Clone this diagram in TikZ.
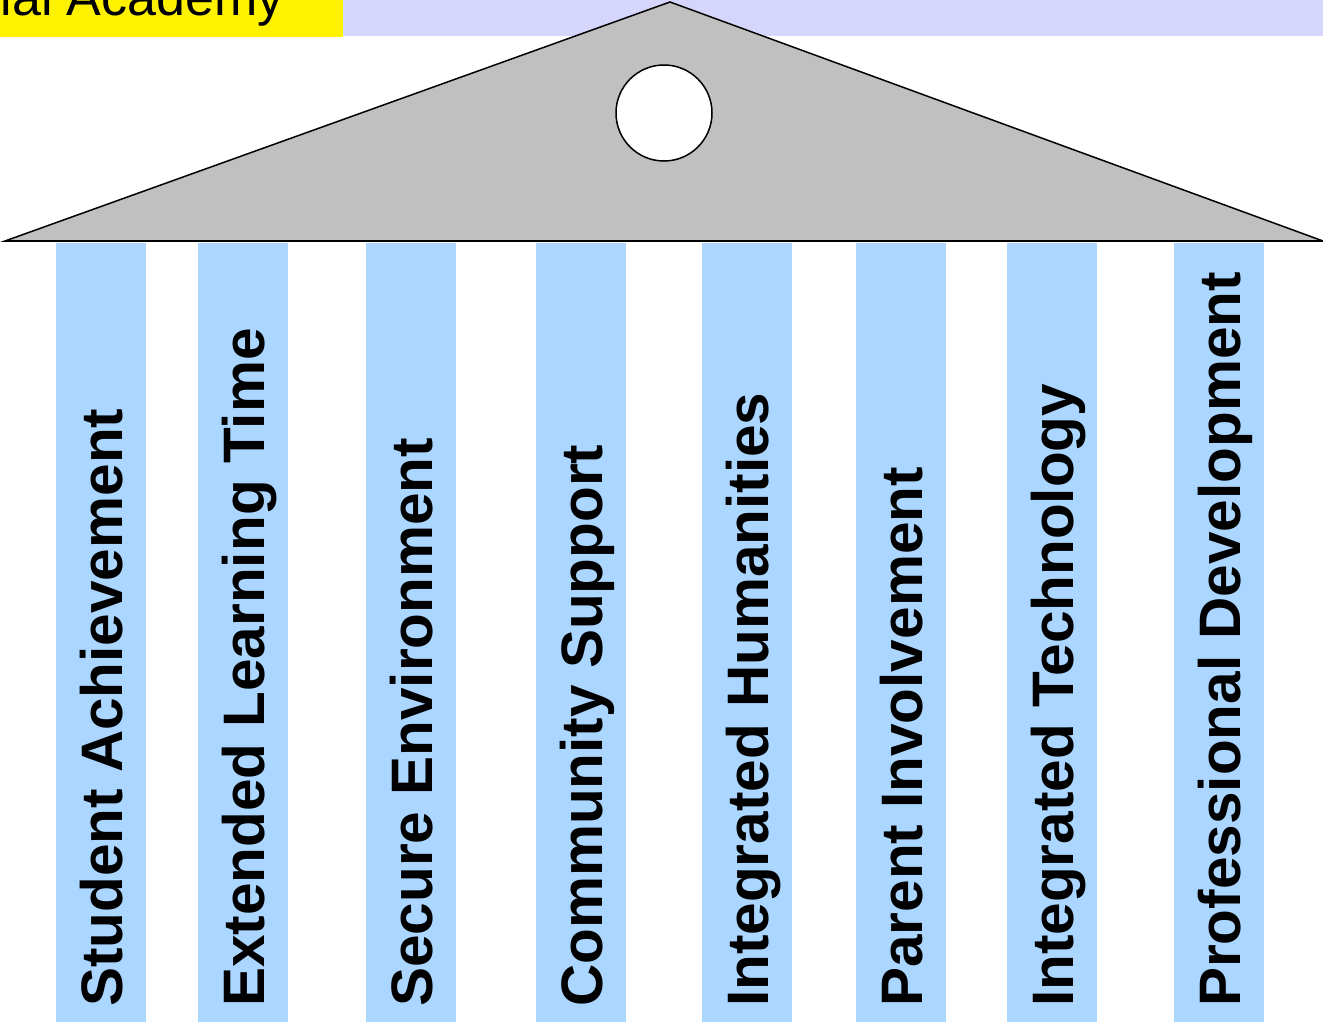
\documentclass[tikz,border=0pt]{standalone}
\usepackage{fontspec}
\setmainfont{Liberation Sans}
\definecolor{lavender}{RGB}{214,214,252}
\definecolor{pillar}{RGB}{170,214,255}
\definecolor{roofgray}{RGB}{192,192,192}
\tikzset{
  pillarbox/.style={fill=pillar, draw=none, inner sep=0pt, minimum width=90pt, minimum height=780pt, anchor=north west},
  pillartext/.style={rotate=90, anchor=base west, inner sep=0pt, font=\fontsize{58.5}{60}\selectfont\bfseries}
}
\begin{document}
\begin{tikzpicture}[x=1pt,y=-1pt]
\useasboundingbox (0,0) rectangle (1323,1022);
\clip (0,0) rectangle (1323,1022);
% banner
\fill[yellow] (0,0) rectangle (343,37);
\fill[lavender] (343,0) rectangle (1323,36);
\node[anchor=base east, inner sep=0pt, font=\fontsize{52}{54}\selectfont] (title) at (284,16) {ial Academy};
% roof
\draw[fill=roofgray, line width=1.5pt, line join=miter] (5,241) -- (670,2) -- (1323,241) -- cycle;
\draw[line width=2.5pt] (5,241) -- (1323,241);
\node[circle, draw, fill=white, line width=1.5pt, minimum size=96pt, inner sep=0pt] (oculus) at (664,113) {};
% pillars
\foreach \x/\name/\txt in {56/p1/Student Achievement, 198/p2/Extended Learning Time, 366/p3/Secure Environment, 536/p4/Community Support, 702/p5/Integrated Humanities, 856/p6/Parent Involvement, 1007/p7/Integrated Technology, 1174/p8/Professional Development}{
  \node[pillarbox] (\name) at (\x,243) {};
  \node[pillartext] (\name t) at (\x+66,1007) {\txt};
}
\end{tikzpicture}
\end{document}
